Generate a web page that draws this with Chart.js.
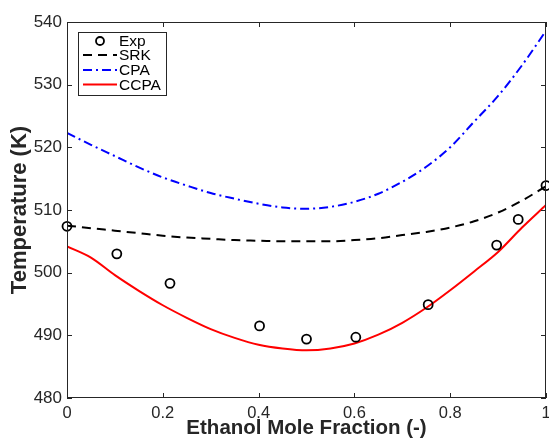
<!DOCTYPE html>
<html>
<head>
<meta charset="utf-8">
<script src="https://cdn.jsdelivr.net/npm/chart.js@4/dist/chart.umd.min.js"></script>
<style>
  html, body { margin: 0; padding: 0; background: #fff; overflow: hidden; }
  #wrap { width: 549px; height: 441px; }
  canvas { display: block; }
</style>
</head>
<body>
<div id="wrap"><canvas id="tempChart" width="549" height="441"></canvas></div>
<script>
// Experimental points (ethanol mole fraction, temperature K)
const expX = [0, 0.104, 0.215, 0.402, 0.50, 0.603, 0.754, 0.897, 0.942, 1.0];
const expT = [507.4, 503.0, 498.3, 491.5, 489.4, 489.7, 494.9, 504.4, 508.5, 513.9];

// Model curves on a common x grid
const gridX = [0, 0.05, 0.1, 0.15, 0.2, 0.25, 0.3, 0.35, 0.4, 0.45, 0.5,
               0.55, 0.6, 0.65, 0.7, 0.75, 0.8, 0.85, 0.9, 0.95, 1.0];
const srkT  = [507.5, 507.1, 506.7, 506.3, 505.9, 505.6, 505.4, 505.2, 505.1, 505.0, 505.0,
               505.0, 505.2, 505.5, 506.0, 506.5, 507.2, 508.2, 509.6, 511.5, 513.8];
const cpaT  = [522.3, 520.4, 518.6, 516.8, 515.2, 513.9, 512.7, 511.8, 511.0, 510.4, 510.2,
               510.5, 511.3, 512.6, 514.5, 516.9, 520.0, 524.1, 528.2, 533.1, 538.6];
const ccpaT = [504.2, 502.4, 499.6, 497.1, 494.8, 492.8, 491.0, 489.6, 488.5, 487.9, 487.6,
               487.9, 488.7, 490.1, 492.0, 494.4, 497.2, 500.2, 503.3, 507.2, 510.8];

// Axis ticks
const xTicks = [0, 0.2, 0.4, 0.6, 0.8, 1];
const yTicks = [480, 490, 500, 510, 520, 530, 540];

const toPts = (xs, ys) => xs.map((x, i) => ({ x: x, y: ys[i] }));
const FONT = '"Liberation Sans", Arial, Helvetica, sans-serif';
const noPad = () => ({ left: 0, top: 0, right: 0, bottom: 0 });

// frame with inward ticks + legend box, drawn like the MATLAB figure
const framePlugin = {
  id: 'frame',
  afterDraw(chart) {
    const ctx = chart.ctx;
    const a = chart.chartArea;
    const xs = chart.scales.x, ys = chart.scales.y;
    ctx.save();
    ctx.strokeStyle = '#262626';
    ctx.lineWidth = 1;
    ctx.strokeRect(a.left + 0.5, a.top + 0.5, a.right - a.left - 1, a.bottom - a.top - 1);
    const tl = 5;
    ctx.beginPath();
    xTicks.forEach(v => {
      const px = Math.round(xs.getPixelForValue(v)) + 0.5;
      ctx.moveTo(px, a.bottom); ctx.lineTo(px, a.bottom - tl);
      ctx.moveTo(px, a.top); ctx.lineTo(px, a.top + tl);
    });
    yTicks.forEach(v => {
      const py = Math.round(ys.getPixelForValue(v)) + 0.5;
      ctx.moveTo(a.left, py); ctx.lineTo(a.left + tl, py);
      ctx.moveTo(a.right, py); ctx.lineTo(a.right - tl, py);
    });
    ctx.stroke();

    // legend
    const bx = 78, by = 32, bw = 88, bh = 63;
    ctx.fillStyle = '#fff';
    ctx.fillRect(bx, by, bw, bh);
    ctx.strokeStyle = '#262626';
    ctx.strokeRect(bx + 0.5, by + 0.5, bw, bh);
    ctx.font = '15.5px ' + FONT;
    ctx.textBaseline = 'middle';
    ctx.textAlign = 'left';
    const rows = [41, 55, 70, 84.5];
    chart.data.datasets.forEach((ds, i) => {
      const y = rows[i];
      if (ds.showLine === false) {
        ctx.beginPath();
        ctx.lineWidth = 1.8;
        ctx.strokeStyle = ds.pointBorderColor;
        ctx.arc(100, y, 4, 0, Math.PI * 2);
        ctx.stroke();
      } else {
        ctx.beginPath();
        ctx.lineWidth = ds.borderWidth;
        ctx.strokeStyle = ds.borderColor;
        ctx.setLineDash(ds.borderDash || []);
        ctx.moveTo(83, y); ctx.lineTo(117, y);
        ctx.stroke();
        ctx.setLineDash([]);
      }
      ctx.fillStyle = '#000';
      ctx.fillText(ds.label, 119, y + 1);
    });
    ctx.restore();
  }
};

new Chart(document.getElementById('tempChart'), {
  type: 'scatter',
  data: {
    datasets: [
      { label: 'Exp', data: toPts(expX, expT), showLine: false, clip: false,
        pointStyle: 'circle', pointRadius: 4.5, pointBorderWidth: 1.8,
        pointBorderColor: '#000', pointBackgroundColor: 'rgba(0,0,0,0)' },
      { label: 'SRK', data: toPts(gridX, srkT), showLine: true, borderColor: '#000',
        borderWidth: 2, borderDash: [9, 6], pointRadius: 0, tension: 0.4, cubicInterpolationMode: 'monotone' },
      { label: 'CPA', data: toPts(gridX, cpaT), showLine: true, borderColor: '#0000ff',
        borderWidth: 2, borderDash: [9, 4, 2, 4], pointRadius: 0, tension: 0.4, cubicInterpolationMode: 'monotone' },
      { label: 'CCPA', data: toPts(gridX, ccpaT), showLine: true, borderColor: '#ff0000',
        borderWidth: 2, pointRadius: 0, tension: 0.4, cubicInterpolationMode: 'monotone' }
    ]
  },
  options: {
    responsive: false,
    animation: false,
    layout: { autoPadding: false, padding: { top: 22, right: 3, left: 0, bottom: 0 } },
    plugins: { legend: { display: false }, tooltip: { enabled: false } },
    scales: {
      x: {
        type: 'linear', min: 0, max: 1,
        grid: { display: false, drawTicks: false }, border: { display: false },
        afterBuildTicks: s => { s.ticks = xTicks.map(v => ({ value: v })); },
        afterFit: s => { s.height = 43; s.getPadding = noPad; },
        ticks: { color: '#262626', padding: 6, font: { family: FONT, size: 16.5 },
                 callback: v => String(v) },
        title: { display: true, text: 'Ethanol Mole Fraction (-)', color: '#262626',
                 font: { family: FONT, size: 20.5, weight: 'bold' }, padding: { top: 0, bottom: 0 } }
      },
      y: {
        type: 'linear', min: 480, max: 540,
        grid: { display: false, drawTicks: false }, border: { display: false },
        afterBuildTicks: s => { s.ticks = yTicks.map(v => ({ value: v })); },
        afterFit: s => { s.width = 67; s.getPadding = noPad; },
        ticks: { color: '#262626', padding: 5, font: { family: FONT, size: 17 } },
        title: { display: true, text: 'Temperature (K)', color: '#262626',
                 font: { family: FONT, size: 22, weight: 'bold' }, padding: { top: 7, bottom: 0 } }
      }
    }
  },
  plugins: [framePlugin]
});
</script>
</body>
</html>
